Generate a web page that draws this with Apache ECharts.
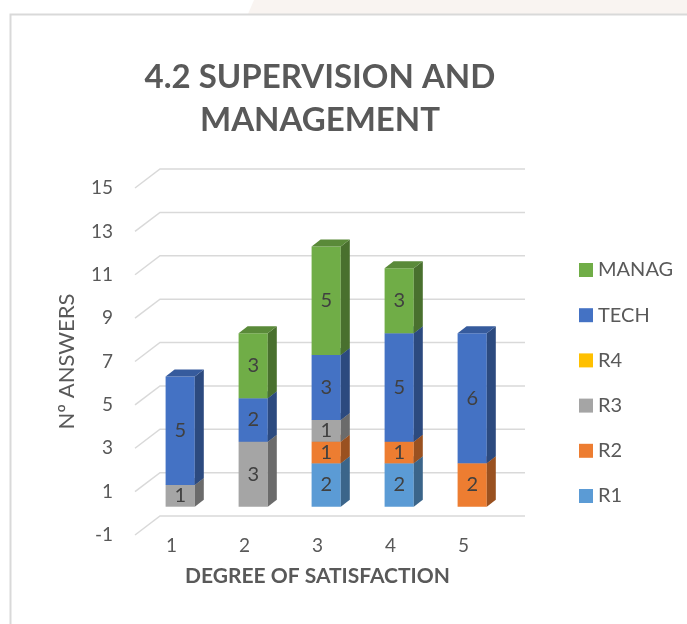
<!DOCTYPE html>
<html>
<head>
<meta charset="utf-8">
<script src="https://cdn.jsdelivr.net/npm/echarts@6/dist/echarts.min.js"></script>
<style>
  html, body { margin: 0; padding: 0; background: #ffffff; }
  #chart { width: 687px; height: 624px; }
</style>
</head>
<body>
<div id="chart"></div>
<script>
// Answers per degree of satisfaction, by respondent group
const categories = ['1', '2', '3', '4', '5'];
const r1    = [0, 0, 2, 2, 0];
const r2    = [0, 0, 1, 1, 2];
const r3    = [1, 3, 1, 0, 0];
const r4    = [0, 0, 0, 0, 0];
const tech  = [5, 2, 3, 5, 6];
const manag = [0, 3, 5, 3, 0];
const yTicks = [-1, 1, 3, 5, 7, 9, 11, 13, 15];
const legendOrder = ['MANAG', 'TECH', 'R4', 'R3', 'R2', 'R1'];

const FONT = 'Lato, "Open Sans", sans-serif';
const TEXT = '#595959';

// oblique projection: floor front edge -> back wall, and bar placement/depth
const WALL_DX = 25, WALL_DY = -19;
const BAR_DX = 8.7, BAR_DY = -6.6;
const DEPTH_DX = 9, DEPTH_DY = -7;

function shade(hex, f) {
  const n = parseInt(hex.slice(1), 16);
  const r = Math.round(((n >> 16) & 255) * f);
  const g = Math.round(((n >> 8) & 255) * f);
  const b = Math.round((n & 255) * f);
  return 'rgb(' + r + ',' + g + ',' + b + ')';
}

function renderBar(params, api) {
  const v = api.value(3);
  if (!v) return null;
  const lo = api.coord([api.value(0), api.value(1)]);
  const hi = api.coord([api.value(0), api.value(2)]);
  const bw = api.size([1, 0])[0] * 0.4;
  const x0 = lo[0] - bw / 2 + BAR_DX, x1 = x0 + bw;
  const yb = lo[1] + BAR_DY, yt = hi[1] + BAR_DY;
  const c = api.visual('color');
  return {
    type: 'group',
    children: [
      { type: 'rect', shape: { x: x0, y: yt, width: bw, height: yb - yt }, style: { fill: c } },
      { type: 'polygon', shape: { points: [[x1, yt], [x1 + DEPTH_DX, yt + DEPTH_DY], [x1 + DEPTH_DX, yb + DEPTH_DY], [x1, yb]] },
        style: { fill: shade(c, 0.65) } },
      { type: 'polygon', shape: { points: [[x0, yt], [x0 + DEPTH_DX, yt + DEPTH_DY], [x1 + DEPTH_DX, yt + DEPTH_DY], [x1, yt]] },
        style: { fill: shade(c, 0.8) } },
      { type: 'text', x: (x0 + x1) / 2, y: (yt + yb) / 2,
        style: { text: String(v), textAlign: 'center', textVerticalAlign: 'middle',
                 fontSize: 20, fontFamily: FONT, fill: '#404040' } }
    ]
  };
}

const groups = [
  { name: 'R1', values: r1, color: '#5b9bd5' },
  { name: 'R2', values: r2, color: '#ed7d31' },
  { name: 'R3', values: r3, color: '#a5a5a5' },
  { name: 'R4', values: r4, color: '#ffc000' },
  { name: 'TECH', values: tech, color: '#4472c4' },
  { name: 'MANAG', values: manag, color: '#70ad47' }
];

const base = categories.map(() => 0);
const barSeries = groups.map(g => {
  const data = g.values.map((v, i) => {
    const item = [i, base[i], base[i] + v, v];
    base[i] += v;
    return item;
  });
  return {
    name: g.name,
    type: 'custom',
    coordinateSystem: 'cartesian2d',
    itemStyle: { color: g.color },
    encode: { x: 0, y: [1, 2] },
    z: 3,
    data: data,
    renderItem: renderBar
  };
});

const gridSeries = {
  type: 'custom',
  coordinateSystem: 'cartesian2d',
  silent: true,
  z: 1,
  encode: { x: 0, y: 1 },
  data: yTicks.map(t => [0, t]),
  renderItem: function (params, api) {
    const cs = params.coordSys;
    const y = api.coord([0, api.value(1)])[1];
    return {
      type: 'polyline',
      shape: { points: [[cs.x, y], [cs.x + WALL_DX, y + WALL_DY], [cs.x + cs.width + WALL_DX, y + WALL_DY]] },
      style: { stroke: '#d9d9d9', lineWidth: 1.5, fill: null }
    };
  }
};

const chart = echarts.init(document.getElementById('chart'));
chart.setOption({
  backgroundColor: '#ffffff',
  animation: false,
  title: {
    text: '4.2 SUPERVISION AND\nMANAGEMENT',
    left: 315,
    top: 51,
    textAlign: 'center',
    textStyle: { fontFamily: FONT, fontSize: 33, fontWeight: 'bold', color: TEXT, lineHeight: 43 }
  },
  graphic: [
    { type: 'polygon', shape: { points: [[254, 0], [687, 0], [687, 14], [248, 14]] },
      style: { fill: '#f9f4f1' }, z: -1 },
    { type: 'rect', shape: { x: 10.5, y: 14.5, width: 700, height: 700 },
      style: { fill: null, stroke: '#d9d9d9', lineWidth: 2 }, z: -1 }
  ],
  legend: {
    orient: 'vertical',
    left: 574,
    top: 255,
    data: legendOrder,
    icon: 'rect',
    itemWidth: 14,
    itemHeight: 14,
    itemGap: 25.2,
    textStyle: { fontFamily: FONT, fontSize: 20, color: TEXT, lineHeight: 20 }
  },
  grid: { left: 135, width: 365, top: 188, height: 347 },
  xAxis: {
    type: 'category',
    data: categories,
    axisLine: { show: false },
    axisTick: { show: false },
    axisLabel: { fontFamily: FONT, fontSize: 19, color: TEXT, margin: 1 },
    name: 'DEGREE OF SATISFACTION',
    nameLocation: 'middle',
    nameGap: 31,
    nameTextStyle: { fontFamily: FONT, fontSize: 21, fontWeight: 'bold', color: TEXT }
  },
  yAxis: {
    type: 'value',
    min: -1,
    max: 15,
    interval: 1,
    splitLine: { show: false },
    axisLine: { show: false },
    axisTick: { show: false },
    axisLabel: {
      fontFamily: FONT, fontSize: 19, color: TEXT, margin: 22,
      formatter: v => (yTicks.indexOf(v) >= 0 ? String(v) : '')
    },
    name: 'Nº ANSWERS',
    nameLocation: 'middle',
    nameGap: 57,
    nameTextStyle: { fontFamily: FONT, fontSize: 22, color: TEXT }
  },
  series: [gridSeries].concat(barSeries)
});
</script>
</body>
</html>
